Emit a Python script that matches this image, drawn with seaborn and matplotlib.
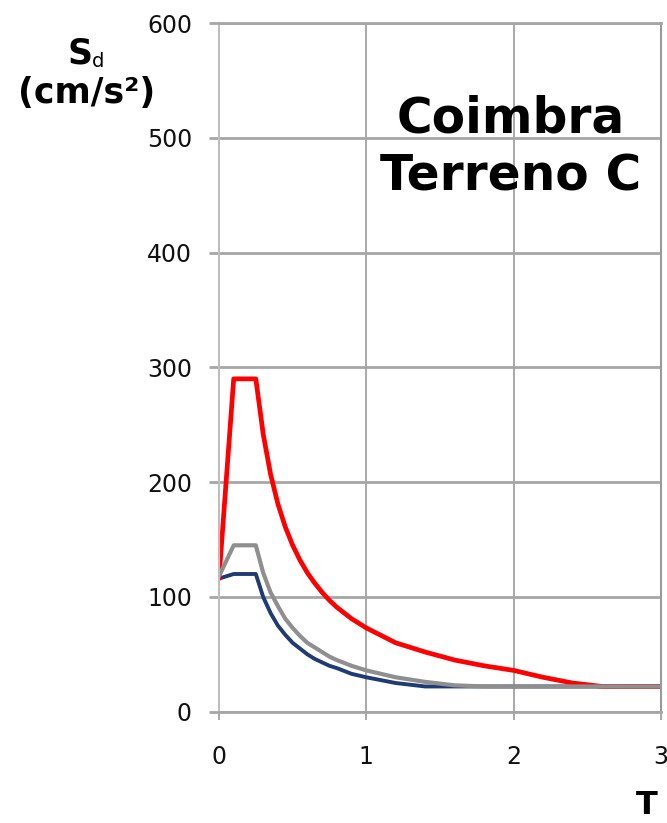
import numpy as np
import pandas as pd
import matplotlib
matplotlib.use("Agg")
import matplotlib.pyplot as plt
import seaborn as sns

sns.set_style("white")
plt.rcParams["font.family"] = ["DejaVu Sans"]
plt.rcParams["text.color"] = "black"

# === Datos ===
periodo = [0.0, 0.1, 0.25, 0.3, 0.35, 0.4, 0.45, 0.5, 0.55, 0.6, 0.65, 0.7,
           0.75, 0.8, 0.9, 1.0, 1.2, 1.4, 1.6, 1.8, 2.0, 2.2, 2.4, 2.6, 2.8, 3.0]
sd_rojo = [116, 290, 290, 242, 207, 181, 161, 145, 132, 121, 112, 104,
           97, 91, 81, 73, 60, 52, 45, 40, 36, 30, 25, 22, 22, 22]
sd_gris = [118, 145, 145, 121, 104, 92, 81, 73, 66, 60, 56, 52,
           48, 45, 40, 36, 30, 26, 23, 22, 22, 22, 22, 22, 22, 22]
sd_azul = [116, 120, 120, 100, 86, 75, 67, 60, 55, 50, 46, 43,
           40, 38, 33, 30, 25, 22, 22, 22, 22, 22, 22, 22, 22, 22]

x_ticks = [0, 1, 2, 3]
y_ticks = [0, 100, 200, 300, 400, 500, 600]

df = pd.DataFrame({"T": periodo, "rojo": sd_rojo, "gris": sd_gris, "azul": sd_azul})

# === Figura ===
fig = plt.figure(figsize=(6.67, 8.23), dpi=100)
ax = fig.add_axes([0.3283, 0.1352, 0.6627, 0.8368])

sns.lineplot(data=df, x="T", y="azul", ax=ax, color="#1F3B73", linewidth=2.8)
sns.lineplot(data=df, x="T", y="rojo", ax=ax, color="#FF0000", linewidth=3.4)
sns.lineplot(data=df, x="T", y="gris", ax=ax, color="#8F8F8F", linewidth=3.0)

ax.set_xlim(0, 3)
ax.set_ylim(0, 600)
ax.set_xticks(x_ticks)
ax.set_yticks(y_ticks)
ax.set_xlabel("")
ax.set_ylabel("")

ax.grid(True, axis="y", color="#A6A6A6", linewidth=2.0)
ax.grid(True, axis="x", color="#9A9A9A", linewidth=1.2)
ax.set_axisbelow(True)

for lado in ["top", "bottom"]:
    ax.spines[lado].set_color("#A6A6A6")
    ax.spines[lado].set_linewidth(2.0)
ax.spines["right"].set_color("#9A9A9A")
ax.spines["right"].set_linewidth(1.5)
ax.spines["left"].set_color("#BDBDBD")
ax.spines["left"].set_linewidth(1.5)

ax.tick_params(axis="x", direction="out", length=6, width=1.2, color="#9A9A9A",
               pad=18, labelsize=17, labelcolor="#111111", bottom=True)
ax.tick_params(axis="y", direction="out", length=7.5, width=2.0, color="#A6A6A6",
               pad=12, labelsize=17, labelcolor="#111111", left=True)

# === Textos ===
fig.text(0.766, 0.8384, "Coimbra", fontsize=35, fontweight="bold",
         ha="center", va="baseline", color="black")
fig.text(0.766, 0.7691, "Terreno C", fontsize=35, fontweight="bold",
         ha="center", va="baseline", color="black")

fig.text(0.120, 0.9234, "S", fontsize=25, fontweight="bold", ha="center",
         va="baseline", color="black")
fig.text(0.1380, 0.9185, "d", fontsize=14, ha="left", va="baseline", color="black")
fig.text(0.1297, 0.8748, "(cm/s²)", fontsize=25, fontweight="bold",
         ha="center", va="baseline", color="black")

fig.text(0.970, 0.011, "T", fontsize=23, fontweight="bold", ha="center",
         va="baseline", color="black")

plt.savefig("out.png", dpi=100)
plt.close()
